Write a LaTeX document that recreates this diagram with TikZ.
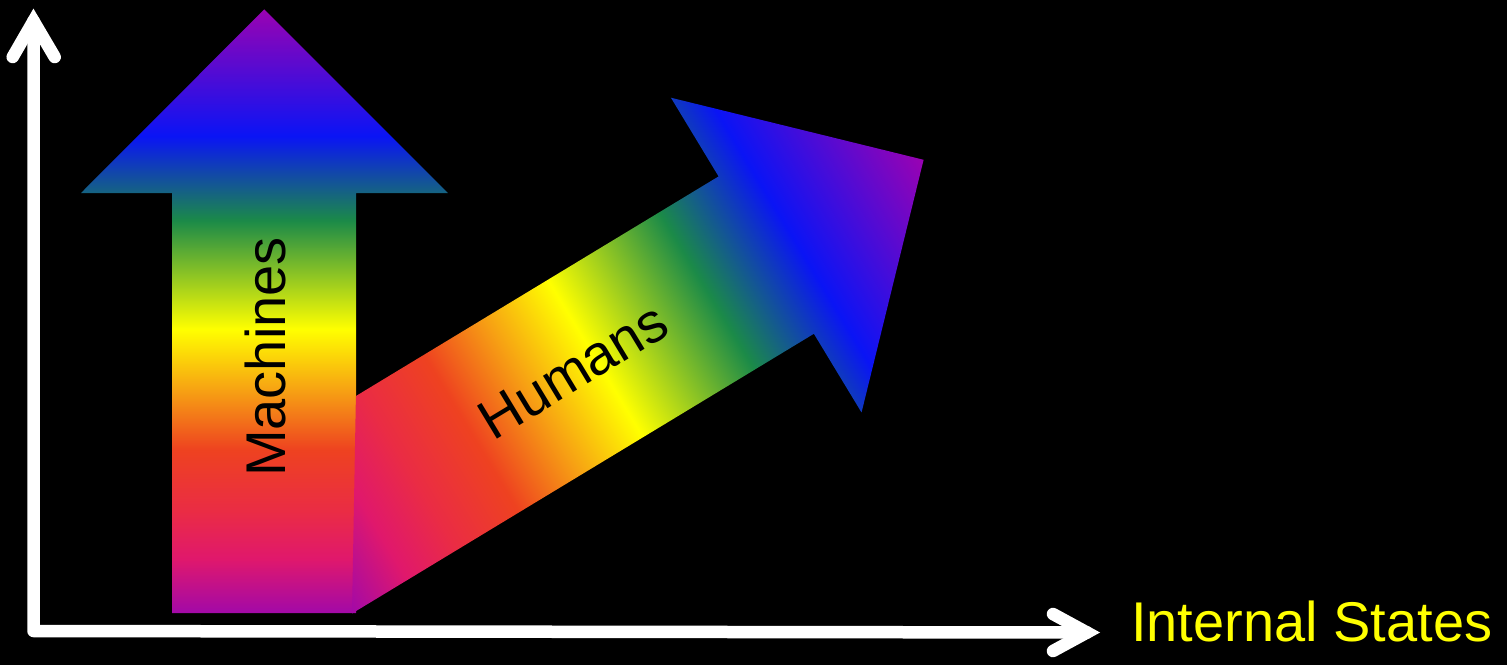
\documentclass[tikz,border=0pt]{standalone}
\usepackage{fontspec}
\setmainfont{Liberation Sans}
\definecolor{r0}{HTML}{A209A8}
\definecolor{r1}{HTML}{E0186C}
\definecolor{r2}{HTML}{EA2C44}
\definecolor{r3}{HTML}{EE4220}
\definecolor{r4}{HTML}{F7A213}
\definecolor{r5}{HTML}{FFFF00}
\definecolor{r6}{HTML}{1B8A48}
\definecolor{r7}{HTML}{0A14F5}
\definecolor{r8}{HTML}{9A02B2}
\pgfdeclareverticalshading{rainbowV}{100bp}{color(0bp)=(r0); color(25bp)=(r0); color(29.5bp)=(r1); color(33.5bp)=(r2); color(38.5bp)=(r3); color(43.5bp)=(r4); color(48.5bp)=(r5); color(57.5bp)=(r6); color(64.5bp)=(r7); color(75bp)=(r8); color(100bp)=(r8)}
\pgfdeclarehorizontalshading{rainbowH}{100bp}{color(0bp)=(r0); color(25bp)=(r0); color(29.5bp)=(r1); color(33.5bp)=(r2); color(38.5bp)=(r3); color(43.5bp)=(r4); color(48.5bp)=(r5); color(57.5bp)=(r6); color(64.5bp)=(r7); color(75bp)=(r8); color(100bp)=(r8)}
\tikzset{
  axisline/.style={draw=white, line width=12.5pt, line cap=round, line join=round},
  chev/.style={draw=white, line width=12.5pt, line cap=round, line join=miter},
  bigtext/.style={font=\fontsize{56}{67}\selectfont, inner sep=0pt},
}
\begin{document}
\begin{tikzpicture}[x=1pt, y=-1pt]
\useasboundingbox (0,0) rectangle (1507,665);
\fill[black] (0,0) rectangle (1507,665);

% vertical arrow (Machines)
\shade[shading=rainbowV] (172,613) -- (172,193) -- (81,193) -- (264.3,9.3) -- (448,193) -- (356,193) -- (356,613) -- cycle;

% diagonal arrow (Humans), drawn in its own frame
\begin{scope}[transform canvas={xshift=352pt, yshift=-613.5pt, rotate=31.2}]
  \shade[shading=rainbowH] (0,0) -- (540,0) -- (540,92) -- (724,-92) -- (540,-276) -- (540,-184) -- (116,-184) -- cycle;
\end{scope}

\node[bigtext, text=black, rotate=90, anchor=base] (machines) at (285.5,357) {Machines};
\node[bigtext, text=black, rotate=31.2, anchor=base] (humans) at (583,387) {Humans};

% axes
\coordinate (O) at (33.5,631);
\coordinate (Ytop) at (33.5,21);
\coordinate (Xend) at (1087,632.5);
\coordinate (yl) at (12.7,57);
\coordinate (yr) at (54.7,57);
\coordinate (xu) at (1053,614);
\coordinate (xd) at (1053,651);
\draw[axisline] (Ytop) -- (O) -- (Xend);
\draw[chev] (yl) -- (Ytop) -- (yr);
\draw[chev] (xu) -- (Xend) -- (xd);

\node[bigtext, text=r5, anchor=base west] (xlabel) at (1131,641.7) {Internal States};
\end{tikzpicture}
\end{document}
